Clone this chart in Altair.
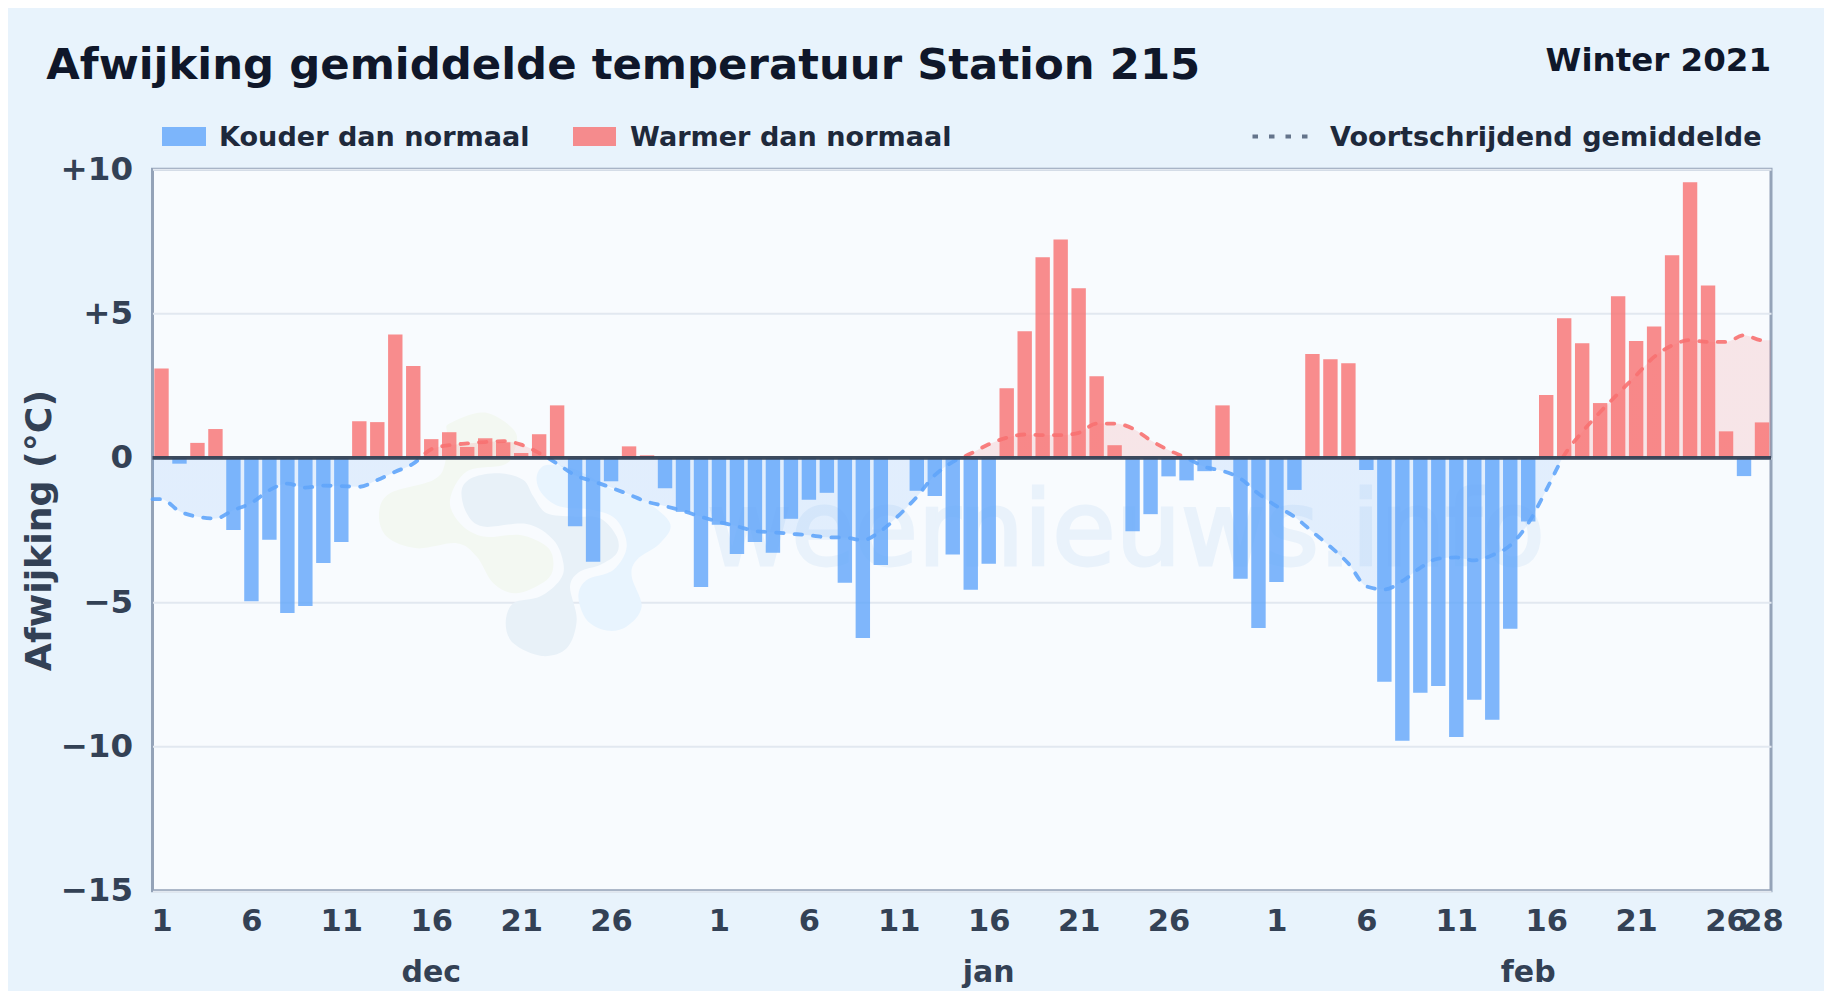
import altair as alt
import pandas as pd

# ---- values ----
dec = [3.1, -0.2, 0.52, 1.0, -2.5, -4.97, -2.84, -5.37, -5.13, -3.64, -2.91, 1.27, 1.24, 4.28, 3.18, 0.65,
       0.89, 0.38, 0.68, 0.54, 0.17, 0.82, 1.82, -2.37, -3.6, -0.81, 0.4, 0.09, -1.05, -1.87, -4.47]
jan = [-2.32, -3.33, -2.91, -3.29, -2.11, -1.45, -1.21, -4.33, -6.24, -3.71, 0.0, -1.14, -1.32, -3.35, -4.57,
       -3.67, 2.41, 4.39, 6.95, 7.57, 5.88, 2.83, 0.44, -2.54, -1.95, -0.64, -0.78, -0.46, 1.82, -4.19, -5.89]
feb = [-4.3, -1.11, 3.6, 3.42, 3.28, -0.42, -7.76, -9.8, -8.14, -7.9, -9.67, -8.38, -9.07, -5.92, -2.2, 2.18,
       4.84, 3.97, 1.9, 5.6, 4.05, 4.55, 7.02, 9.55, 5.97, 0.92, -0.63, 1.23]

ma_dec = [-1.43, -1.85, -2.04, -2.1, -1.81, -1.56, -1.12, -0.89, -1.03, -0.96, -0.98, -1.0, -0.77, -0.48, -0.2, 0.3,
          0.44, 0.5, 0.55, 0.58, 0.46, 0.17, -0.2, -0.6, -0.81, -1.03, -1.27, -1.52, -1.67, -1.84, -2.04]
ma_jan = [-2.22, -2.37, -2.53, -2.58, -2.63, -2.68, -2.75, -2.76, -2.85, -2.53, -1.99, -1.35, -0.6, -0.14, 0.15,
          0.47, 0.7, 0.81, 0.79, 0.79, 0.87, 1.19, 1.19, 1.02, 0.61, 0.27, 0.0, -0.31, -0.45, -0.72, -1.24]
ma_feb = [-1.67, -2.04, -2.56, -3.08, -3.66, -4.45, -4.56, -4.27, -3.81, -3.49, -3.45, -3.55, -3.37, -3.03, -2.27,
          -1.12, 0.09, 0.9, 1.59, 2.23, 2.86, 3.5, 3.9, 4.08, 4.02, 4.02, 4.25, 4.08]

months = ["dec", "jan", "feb"]
month_days = [len(dec), len(jan), len(feb)]
y_ticks = [-15, -10, -5, 0, 5, 10]
title_text = "Afwijking gemiddelde temperatuur Station 215"
season_text = "Winter 2021"
legend_texts = ["Kouder dan normaal", "Warmer dan normaal", "Voortschrijdend gemiddelde"]
axis_title = "Afwijking (°C)"
watermark = "weernieuws.info"

BLUE, RED = "#60a5fa", "#f87171"
BG, PLOT = "#e8f3fc", "#f8fbfe"
W, H = 1618.5, 721.5
FONT = "DejaVu Sans"

# ---- tables ----
values = dec + jan + feb
ma = ma_dec + ma_jan + ma_feb
bars = pd.DataFrame({
    "pos": [i + 0.5 for i in range(len(values))],
    "afw": values,
    "soort": ["koud" if v < 0 else "warm" for v in values],
})
line = pd.DataFrame({
    "pos": [0] + [i + 0.5 for i in range(len(ma))] + [len(ma)],
    "ma": [ma[0]] + ma + [ma[-1]],
})

# tick labels: day of month every 5 days, plus the final 28
tick_pos, tick_lab = [], []
start = 0
for n in month_days:
    for d in range(1, 27, 5):
        tick_pos.append(start + d - 0.5)
        tick_lab.append(str(d))
    start += n
tick_pos.append(start - 0.5)
tick_lab.append("28")
lab_map = dict(zip([str(p) for p in tick_pos], tick_lab))
label_expr = "{" + ",".join(f"'{k}':'{v}'" for k, v in lab_map.items()) + "}[''+datum.value]"

mstart, mc = 0, []
for n in month_days:
    mc.append(mstart + n // 2 + 0.5)
    mstart += n
month_df = pd.DataFrame({"pos": mc, "maand": months})

X = alt.X("pos:Q", scale=alt.Scale(domain=[0, len(values)], nice=False, zero=False, padding=0),
          axis=alt.Axis(values=tick_pos, labelExpr=label_expr, labelOverlap=False, labelFontSize=30.5,
                        labelFont=FONT, labelFontWeight="bold", labelColor="#334155", labelPadding=15.5,
                        labelBound=False, labelFlush=False, grid=False, ticks=False, domain=False, title=None))
y_scale = alt.Scale(domain=[-15, 10], nice=False, zero=False, padding=0)
y_axis = alt.Axis(values=y_ticks, grid=True, gridColor="#e2e8f0", gridWidth=2, ticks=False, domain=False,
                  labelFontSize=32.5, labelFont=FONT, labelFontWeight="bold", labelColor="#334155",
                  labelPadding=20, labelOverlap=False,
                  labelExpr="datum.value>0?'+'+datum.value:(datum.value<0?'\u2212'+abs(datum.value):'0')",
                  title=axis_title, titleFont=FONT, titleFontSize=36.3, titleFontWeight="bold",
                  titleColor="#334155", titleX=-102, titleY=H / 2, titleAngle=270,
                  titleAlign="center", titleBaseline="alphabetic")
Y = alt.Y("ma:Q", scale=y_scale, axis=y_axis, title=axis_title)

# split the average colour exactly at zero with hard gradient stops over the curve's extent
top, low = max(ma), min(ma)
off = top / (top - low)
def split(c_up, c_down):
    return alt.LinearGradient(gradient="linear", x1=0, x2=0, y1=0, y2=1,
                              stops=[alt.GradientStop(color=c_up, offset=0),
                                     alt.GradientStop(color=c_up, offset=off),
                                     alt.GradientStop(color=c_down, offset=off),
                                     alt.GradientStop(color=c_down, offset=1)])

area_l = alt.Chart(line).mark_area(interpolate="monotone", fill=split("#ef4444", "#3b8ef6"), opacity=0.12).encode(
    x=X, y=Y, y2=alt.datum(0))
line_l = alt.Chart(line).mark_line(interpolate="monotone", stroke=split(RED, BLUE), strokeWidth=3.8,
                                   strokeDash=[7.5, 11], strokeCap="round", opacity=0.9).encode(x=X, y=Y)
bar_l = alt.Chart(bars).mark_bar(size=14.4, opacity=0.8).encode(
    x=X, y=alt.Y("afw:Q", scale=y_scale, axis=y_axis, title=axis_title),
    color=alt.Color("soort:N", scale=alt.Scale(domain=["koud", "warm"], range=[BLUE, RED]), legend=None))
zero_l = alt.Chart(pd.DataFrame({"z": [0]})).mark_rule(color="#334155", strokeWidth=3.8, opacity=0.95).encode(
    y=alt.Y("z:Q", scale=y_scale, axis=y_axis, title=axis_title))
month_l = alt.Chart(month_df).mark_text(font=FONT, fontSize=30, fontWeight="bold", color="#334155",
                                        baseline="alphabetic", align="center").encode(
    x=X, y=alt.value(812.5), text="maand:N")

one = pd.DataFrame({"a": [0]})
def label(text, x, y, size, color, align="left"):
    return alt.Chart(one).mark_text(font=FONT, fontSize=size, fontWeight="bold", color=color, align=align,
                                    baseline="alphabetic").encode(x=alt.value(x), y=alt.value(y), text=alt.value(text))
def swatch(x, x2, color):
    return alt.Chart(one).mark_rect(color=color, opacity=0.8).encode(
        x=alt.value(x), x2=alt.value(x2), y=alt.value(-42.3), y2=alt.value(-23.3))

title_l = label(title_text, -106.3, -90.3, 43.4, "#0f172a")
season_l = label(season_text, W, -98, 32.5, "#0f172a", "right")
leg = (swatch(9.5, 53.5, BLUE) + swatch(420.5, 463.5, RED)
       + label(legend_texts[0], 66.5, -23.6, 27.1, "#1e293b")
       + label(legend_texts[1], 477.5, -23.6, 27.1, "#1e293b")
       + alt.Chart(one).mark_rule(color="#64748b", strokeWidth=4, strokeDash=[5.5, 11]).encode(
           x=alt.value(1100), x2=alt.value(1155), y=alt.value(-32.7))
       + label(legend_texts[2], 1177.5, -23.6, 27.1, "#1e293b"))

# faint watermark: logo of three blobs + site name
def smooth(points):
    pts = [((x - 500) / 3, (y - 430) / 3) for x, y in points]
    n = len(pts)
    d = f"M{pts[0][0]:.1f},{pts[0][1]:.1f}"
    for i in range(n):
        p0, p1, p2, p3 = pts[i - 1], pts[i], pts[(i + 1) % n], pts[(i + 2) % n]
        c1 = (p1[0] + (p2[0] - p0[0]) / 6, p1[1] + (p2[1] - p0[1]) / 6)
        c2 = (p2[0] - (p3[0] - p1[0]) / 6, p2[1] - (p3[1] - p1[1]) / 6)
        d += f"C{c1[0]:.1f},{c1[1]:.1f},{c2[0]:.1f},{c2[1]:.1f},{p2[0]:.1f},{p2[1]:.1f}"
    return d + "Z"

blob_green = [(270, 100), (375, 68), (465, 125), (460, 190), (430, 225), (320, 245), (270, 330), (300, 400),
              (370, 440), (480, 435), (560, 470), (580, 520), (560, 570), (470, 610), (400, 580), (350, 500),
              (290, 460), (170, 475), (80, 440), (57, 370), (90, 310), (220, 270), (255, 220), (260, 130)]
blob_gray = [(305, 300), (340, 262), (420, 250), (490, 270), (520, 320), (560, 370), (640, 380), (720, 385),
             (770, 440), (770, 490), (720, 525), (660, 545), (630, 590), (650, 690), (620, 775), (545, 798),
             (460, 760), (437, 700), (460, 640), (540, 620), (600, 570), (610, 520), (580, 450), (500, 402),
             (370, 410), (320, 370)]
blob_light = [(530, 260), (560, 225), (650, 240), (760, 300), (850, 330), (930, 400), (900, 460), (830, 510),
              (815, 560), (845, 650), (800, 710), (740, 722), (680, 690), (655, 620), (680, 570), (760, 540),
              (800, 470), (770, 390), (700, 360), (600, 350), (545, 310)]
def blob(points, color):
    return alt.Chart(one).mark_point(shape=smooth(points), size=4, filled=True, color=color, opacity=1,
                                     strokeWidth=0).encode(x=alt.value(374.2), y=alt.value(364))
wm = (blob(blob_green, "#f3f8f2") + blob(blob_gray, "#e8f1f8") + blob(blob_light, "#e8f4fe")
      + alt.Chart(one).mark_text(font=FONT, fontSize=103, color="#e9f2fb", stroke="#e9f2fb", strokeWidth=3,
                                 align="left", baseline="alphabetic").encode(
          x=alt.value(554.5), y=alt.value(395.7), text=alt.value(watermark)))

chart = alt.layer(wm, area_l, bar_l, line_l, zero_l, month_l, title_l, season_l, leg).properties(
    width=W, height=H,
    padding={"left": 144.5, "top": 161.3, "right": 53, "bottom": 100},
    autosize=alt.AutoSizeParams(type="none"),
).configure(background=BG).configure_view(fill=PLOT, stroke="#94a3b8", strokeWidth=3)

chart.save("out.html", embed_options={"renderer": "svg", "actions": False})
